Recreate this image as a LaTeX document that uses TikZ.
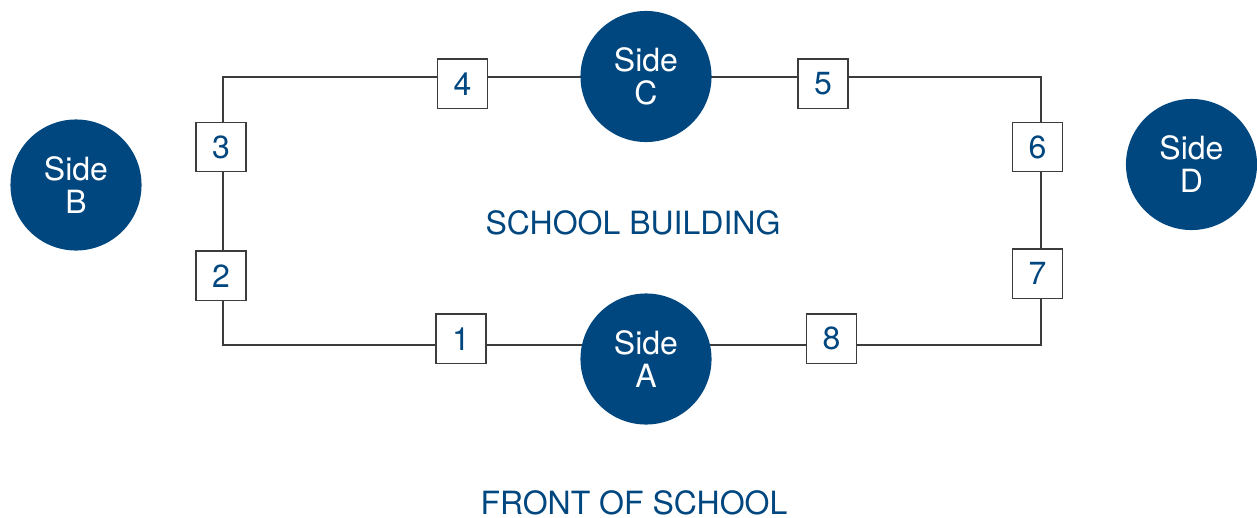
\documentclass[tikz,border=0pt]{standalone}
\usepackage{fontspec}
\setmainfont{TeX Gyre Heros}
\usepackage{xcolor}
\definecolor{navy}{RGB}{0,70,127}
\definecolor{wallgray}{RGB}{60,60,60}

\begin{document}
\begin{tikzpicture}[x=0.01cm, y=-0.01cm,
  side/.style={circle, fill=navy, text=white, minimum size=1.31cm, inner sep=0pt,
    align=center, font=\fontsize{9.1}{9.4}\selectfont},
  post/.style={draw=wallgray, line width=0.45pt, fill=white, minimum width=0.5cm,
    minimum height=0.49cm, inner sep=0pt, text=navy, font=\fontsize{9.1}{10}\selectfont},
  label/.style={text=navy, font=\fontsize{9.1}{10}\selectfont}]
\useasboundingbox (0,0) rectangle (1257,518);
% building outline
\coordinate (nw) at (223,77);
\coordinate (se) at (1041,345);
\draw[wallgray, line width=0.4pt] (nw) rectangle (se);
% sides
\node[side] (sideA) at (646,359) {Side\\A};
\node[side] (sideB) at (76,185) {Side\\B};
\node[side] (sideC) at (646,76.5) {Side\\C};
\node[side] (sideD) at (1191.5,164.5) {Side\\D};
% numbered posts
\node[post] (p1) at (461,338.8) {1};
\node[post] (p2) at (221,275.8) {2};
\node[post] (p3) at (221,147) {3};
\node[post] (p4) at (462.5,83.8) {4};
\node[post] (p5) at (823,83.8) {5};
\node[post] (p6) at (1037.5,147) {6};
\node[post] (p7) at (1037.5,273.8) {7};
\node[post] (p8) at (831.5,338.8) {8};
\node[label] (bldg) at (633,222.5) {SCHOOL BUILDING};
\node[label] (front) at (634,502.5) {FRONT OF SCHOOL};
\end{tikzpicture}
\end{document}
